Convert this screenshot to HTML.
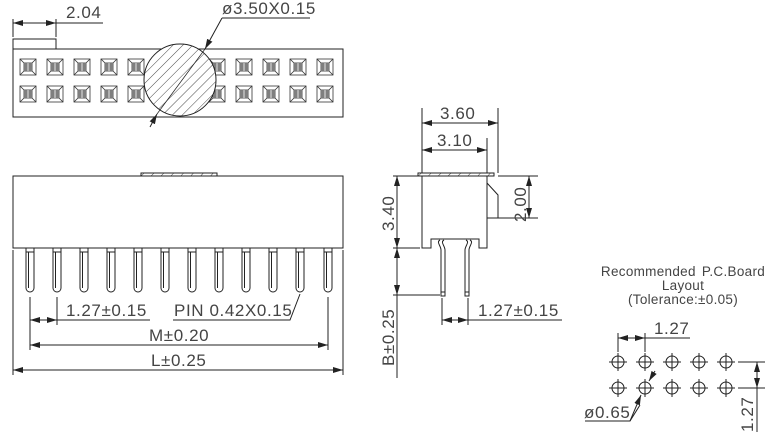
<!DOCTYPE html>
<html><head><meta charset="utf-8"><style>
html,body{margin:0;padding:0;background:#fff;width:768px;height:440px;overflow:hidden}
svg{display:block}
text{font-family:"Liberation Sans","DejaVu Sans",sans-serif;fill:#444;font-size:17px;letter-spacing:0.6px}
</style></head><body>
<svg width="768" height="440" viewBox="0 0 768 440" xmlns="http://www.w3.org/2000/svg">
<defs>
<pattern id="h" patternUnits="userSpaceOnUse" width="7" height="7" patternTransform="rotate(45)">
<line x1="0" y1="0" x2="0" y2="7" stroke="#333" stroke-width="0.9"/>
</pattern>
<marker id="a" viewBox="0 0 10 6" refX="10" refY="3" markerWidth="10" markerHeight="6" orient="auto-start-reverse" markerUnits="userSpaceOnUse">
<path d="M0,0 L10,3 L0,6 z" fill="#222"/>
</marker>
<g id="sq" fill="none" stroke="#333" stroke-width="0.8">
<rect x="0" y="0" width="16" height="16"/>
<rect x="4" y="4" width="8" height="8"/>
<path d="M0,0L4,4M16,0L12,4M0,16L4,12M16,16L12,12M4,6H12M4,8H12M4,10H12M6,4V12M10,4V12"/>
</g>
<g id="pin" fill="none" stroke="#222" stroke-width="1">
<path d="M-4,0V40A4,4 0 0 0 4,40V0"/>
<path d="M-4,4H4"/>
<path d="M-1.5,4V40"/>
</g>
<g id="hole" fill="none" stroke="#222" stroke-width="1">
<circle cx="0" cy="0" r="6"/>
<path d="M-9,0H9M0,-9V9"/>
</g>
</defs>
<g stroke="#222" stroke-width="1" fill="none">
<rect x="13" y="49" width="330" height="68"/>
<rect x="13" y="39" width="43" height="10"/>
<path d="M13,37V19M56,37V19M56,23H103"/>
<line x1="13" y1="23" x2="56" y2="23" marker-start="url(#a)" marker-end="url(#a)"/>
</g>
<g>
<use href="#sq" x="20" y="59"/><use href="#sq" x="47" y="59"/><use href="#sq" x="74" y="59"/><use href="#sq" x="101" y="59"/><use href="#sq" x="128" y="59"/>
<use href="#sq" x="209" y="59"/><use href="#sq" x="236" y="59"/><use href="#sq" x="263" y="59"/><use href="#sq" x="290" y="59"/><use href="#sq" x="317" y="59"/>
<use href="#sq" x="20" y="86"/><use href="#sq" x="47" y="86"/><use href="#sq" x="74" y="86"/><use href="#sq" x="101" y="86"/><use href="#sq" x="128" y="86"/>
<use href="#sq" x="209" y="86"/><use href="#sq" x="236" y="86"/><use href="#sq" x="263" y="86"/><use href="#sq" x="290" y="86"/><use href="#sq" x="317" y="86"/>
</g>
<circle cx="180" cy="80" r="36" fill="#fff"/>
<circle cx="180" cy="80" r="36" fill="url(#h)" stroke="#222"/>
<g stroke="#222" fill="none">
<line x1="222" y1="18" x2="205" y2="49" marker-end="url(#a)"/>
<line x1="205" y1="49" x2="157" y2="114" stroke-width="0.7"/>
<line x1="150" y1="127" x2="157" y2="114" marker-end="url(#a)"/>
<path d="M222,18H310"/>
</g>
<text x="66" y="18">2.04</text>
<text x="222" y="14">ø3.50X0.15</text>

<g stroke="#222" stroke-width="1" fill="none">
<rect x="13" y="176" width="330" height="72"/>
<rect x="141" y="173" width="76" height="3" fill="url(#h)"/>
<path d="M13,250V375M343,250V375M30,297V350M57,297V325M328,297V350M57,320H150M173,320H290L300,294"/>
<line x1="30" y1="320" x2="57" y2="320" marker-start="url(#a)" marker-end="url(#a)"/>
<line x1="30" y1="345" x2="328" y2="345" marker-start="url(#a)" marker-end="url(#a)"/>
<line x1="13" y1="370" x2="343" y2="370" marker-start="url(#a)" marker-end="url(#a)"/>
</g>
<g>
<use href="#pin" x="30" y="248"/><use href="#pin" x="57" y="248"/><use href="#pin" x="84" y="248"/><use href="#pin" x="111" y="248"/><use href="#pin" x="138" y="248"/><use href="#pin" x="165" y="248"/><use href="#pin" x="192" y="248"/><use href="#pin" x="219" y="248"/><use href="#pin" x="246" y="248"/><use href="#pin" x="273" y="248"/><use href="#pin" x="300" y="248"/><use href="#pin" x="328" y="248"/>
</g>
<text x="66" y="316">1.27±0.15</text>
<text x="174" y="316">PIN  0.42X0.15</text>
<text x="149" y="341">M±0.20</text>
<text x="151" y="366">L±0.25</text>

<g stroke="#222" stroke-width="1" fill="none">
<path d="M422,176V248H431V239H479V248H487V176"/>
<rect x="418" y="173" width="76" height="3" fill="url(#h)"/>
<path d="M487,183L498,195V218H487"/>
<path d="M440,240C436,242 441,246 441,250V292M444,240C440,242 445,246 445,250V292M470,240C474,242 469,246 469,250V292M466,240C470,242 465,246 465,250V292"/>
<path d="M441,292H445V296H441zM465,292H469V296H465z"/>
<path d="M422,173V108M498,173V108M487,173V138"/>
<path d="M498,176H538M498,218H538"/>
<path d="M393,176H420M393,248H420M393,295H440M397,295V378"/>
<path d="M442,298V325M468,298V325M468,320H562"/>
</g>
<g stroke="#222" fill="none">
<line x1="422" y1="123" x2="498" y2="123" marker-start="url(#a)" marker-end="url(#a)"/>
<line x1="422" y1="150" x2="487" y2="150" marker-start="url(#a)" marker-end="url(#a)"/>
<line x1="529" y1="176" x2="529" y2="218" marker-start="url(#a)" marker-end="url(#a)"/>
<line x1="397" y1="176" x2="397" y2="248" marker-start="url(#a)" marker-end="url(#a)"/>
<line x1="397" y1="248" x2="397" y2="295" marker-start="url(#a)" marker-end="url(#a)"/>
<line x1="442" y1="320" x2="468" y2="320" marker-start="url(#a)" marker-end="url(#a)"/>
</g>
<text x="440" y="119">3.60</text>
<text x="437" y="146">3.10</text>
<text transform="translate(526,222) rotate(-90)">2.00</text>
<text transform="translate(394,231) rotate(-90)">3.40</text>
<text transform="translate(394,366) rotate(-90)">B±0.25</text>
<text x="478" y="316">1.27±0.15</text>

<text x="683" y="276" text-anchor="middle" style="font-size:13.5px;letter-spacing:0.3px;word-spacing:2px">Recommended  P.C.Board</text>
<text x="683" y="290" text-anchor="middle" style="font-size:13.5px;letter-spacing:0.3px">Layout</text>
<text x="683" y="304" text-anchor="middle" style="font-size:13.5px;letter-spacing:0.3px">(Tolerance:±0.05)</text>
<g>
<use href="#hole" x="618" y="362"/><use href="#hole" x="645" y="362"/><use href="#hole" x="672" y="362"/><use href="#hole" x="699" y="362"/><use href="#hole" x="726" y="362"/>
<use href="#hole" x="618" y="388"/><use href="#hole" x="645" y="388"/><use href="#hole" x="672" y="388"/><use href="#hole" x="699" y="388"/><use href="#hole" x="726" y="388"/>
</g>
<g stroke="#222" fill="none">
<path d="M618,333V352M645,333V352M645,338H690"/>
<line x1="618" y1="338" x2="645" y2="338" marker-start="url(#a)" marker-end="url(#a)"/>
<path d="M738,362H765M738,388H765M757,388V432"/>
<line x1="757" y1="362" x2="757" y2="388" marker-start="url(#a)" marker-end="url(#a)"/>
<path d="M585,421H630L640,405"/>
<line x1="655" y1="371" x2="649" y2="381" marker-end="url(#a)"/>
<line x1="630" y1="421" x2="641" y2="395" marker-end="url(#a)"/>
</g>
<text x="654" y="334">1.27</text>
<text transform="translate(753,432) rotate(-90)">1.27</text>
<text x="584" y="418">ø0.65</text>
</svg>
</body></html>
